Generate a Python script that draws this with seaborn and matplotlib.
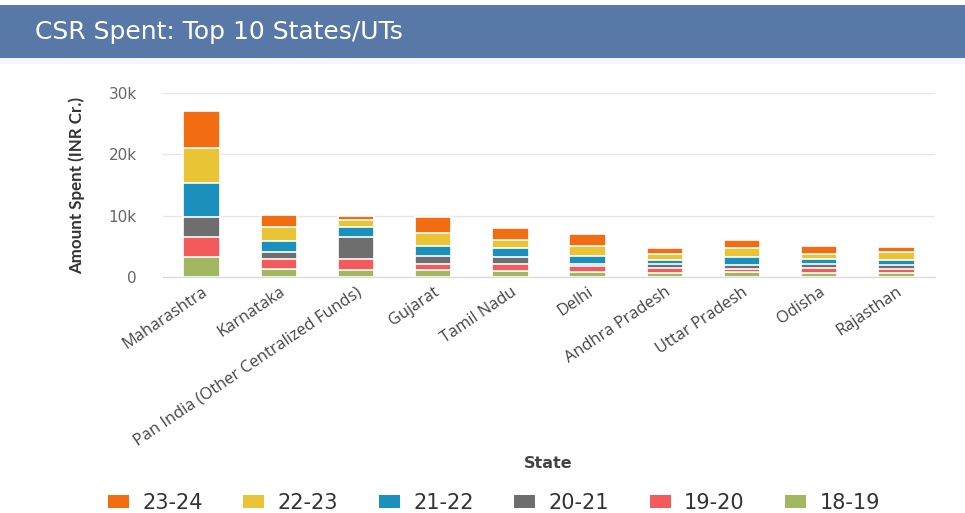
import matplotlib
matplotlib.use("Agg")
import matplotlib.pyplot as plt
import seaborn as sns
import pandas as pd
import numpy as np
from matplotlib.patches import Rectangle, Patch

states = ["Maharashtra", "Karnataka", "Pan India (Other Centralized Funds)", "Gujarat",
          "Tamil Nadu", "Delhi", "Andhra Pradesh", "Uttar Pradesh", "Odisha", "Rajasthan"]
years = ["23-24", "22-23", "21-22", "20-21", "19-20", "18-19"]
fy_18_19 = [3300, 1350, 1150, 1150, 1050, 800, 700, 800, 700, 700]
fy_19_20 = [3250, 1550, 1800, 1050, 1150, 1000, 750, 500, 750, 600]
fy_20_21 = [3250, 1200, 3550, 1200, 1000, 400, 650, 650, 650, 650]
fy_21_22 = [5500, 1800, 1600, 1700, 1450, 1200, 650, 1350, 800, 800]
fy_22_23 = [5700, 2200, 1200, 2150, 1450, 1700, 1000, 1350, 850, 1250]
fy_23_24 = [6000, 2000, 700, 2550, 1900, 1850, 1050, 1350, 1350, 950]
colors = ["#f26c12", "#e9c435", "#1b90bd", "#6e6e6e", "#f45a5c", "#a1b861"]

series = {"18-19": fy_18_19, "19-20": fy_19_20, "20-21": fy_20_21,
          "21-22": fy_21_22, "22-23": fy_22_23, "23-24": fy_23_24}
order_bottom_up = ["18-19", "19-20", "20-21", "21-22", "22-23", "23-24"]
cum = np.zeros(len(states))
cums = {}
for y in order_bottom_up:
    cum = cum + np.array(series[y])
    cums[y] = cum.copy()

plt.rcParams["font.family"] = ["Open Sans", "DejaVu Sans"]
fig = plt.figure(figsize=(9.65, 5.13), dpi=100)
fig.patch.set_facecolor("white")

# header band
fig.patches.append(Rectangle((0.0, 1 - 58 / 513), 1.0, 53 / 513, transform=fig.transFigure,
                             facecolor="#5878a8", edgecolor="none", zorder=0))
fig.patches.append(Rectangle((0.0, 1 - 64 / 513), 1.0, 6 / 513, transform=fig.transFigure,
                             facecolor="#f3f7fb", edgecolor="none", zorder=0))
fig.text(35 / 965, 1 - 32 / 513, "CSR Spent: Top 10 States/UTs", color="white",
         fontsize=18, va="center", ha="left", family=["DejaVu Sans"])

ax = fig.add_axes([163 / 965, 1 - 277 / 513, (935 - 163) / 965, (277 - 93) / 513])
for y, c in zip(years, colors):
    df = pd.DataFrame({"State": states, "Amount": cums[y]})
    sns.barplot(data=df, x="State", y="Amount", color=c, width=0.47, ax=ax,
                edgecolor="white", linewidth=1.2, saturation=1, zorder=3)

ax.set_ylim(0, 30000)
ax.set_xlim(-0.5, len(states) - 0.5)
ax.set_yticks([0, 10000, 20000, 30000])
ax.set_yticklabels(["0", "10k", "20k", "30k"], color="#666666", fontsize=11,
                   family=["DejaVu Sans"])
ax.yaxis.grid(True, color="#e6e6e6", linewidth=1, zorder=0)
ax.set_axisbelow(True)
for s in ["top", "right", "left"]:
    ax.spines[s].set_visible(False)
ax.spines["bottom"].set_color("#d8d8d8")
ax.tick_params(axis="y", length=0, pad=19)
ax.tick_params(axis="x", length=0, pad=5)
ax.set_xticks(range(len(states)))
ax.set_xticklabels(states, rotation=34, ha="right", rotation_mode="anchor",
                   fontsize=11.8, color="#444444")
ax.set_ylabel("Amount Spent (INR Cr.)", fontsize=12.2, color="#333333", fontweight="bold",
              labelpad=17, family=["Lato", "DejaVu Sans"])
ax.set_xlabel("")
fig.text(548 / 965, 1 - 463 / 513, "State", ha="center", va="center", fontsize=11.5,
         color="#444444", fontweight="bold", family=["DejaVu Sans"])

handles = [Patch(facecolor=c, edgecolor="none") for c in colors]
fig.legend(handles, years, loc="center", bbox_to_anchor=(494 / 965, 1 - 503 / 513),
           ncol=6, frameon=False, columnspacing=1.95, handletextpad=0.65,
           handlelength=1.0, handleheight=0.6, labelcolor="#333333",
           prop={"family": "DejaVu Sans", "size": 15})

fig.savefig("out.png", dpi=100, facecolor="white")
